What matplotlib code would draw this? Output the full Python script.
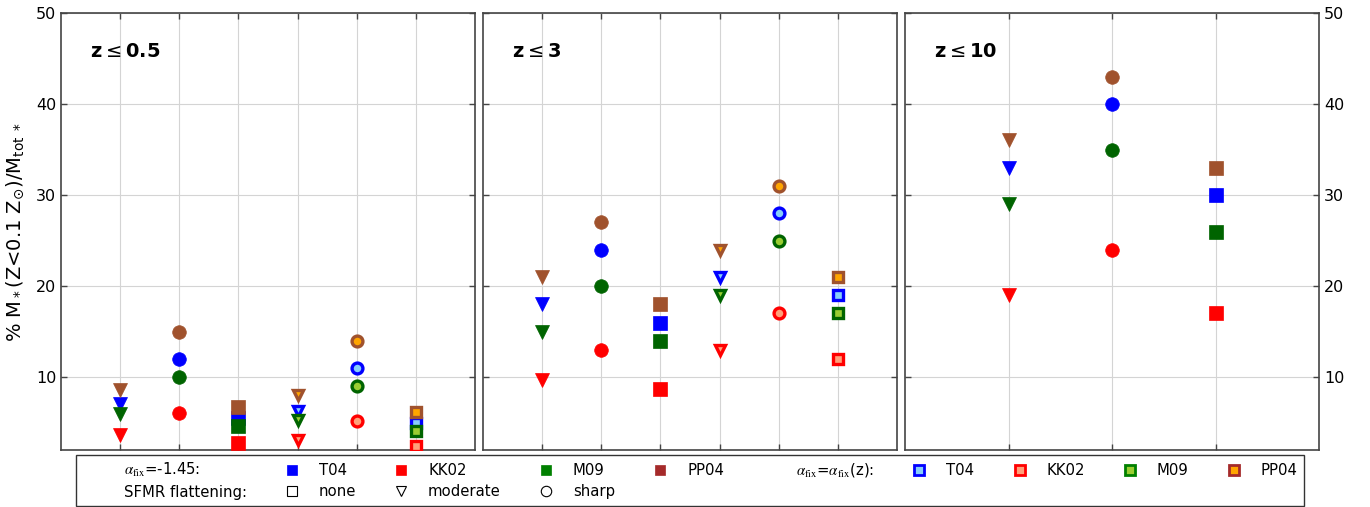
import matplotlib
matplotlib.use("Agg")
import matplotlib.pyplot as plt
from matplotlib.lines import Line2D
import numpy as np

# ---- data -------------------------------------------------------------
calibrations = ["T04", "KK02", "M09", "PP04"]
panel_labels = [r"z$\leq$0.5", r"z$\leq$3", r"z$\leq$10"]

# column order per panel: moderate, sharp, none (alpha_fix = -1.45),
# then moderate, sharp, none (alpha_fix = alpha_fix(z)) for the first two panels
flattening_cols_6 = ["moderate", "sharp", "none", "moderate", "sharp", "none"]
alpha_z_cols_6 = [False, False, False, True, True, True]
flattening_cols_3 = ["moderate", "sharp", "none"]
alpha_z_cols_3 = [False, False, False]

z05_T04 = [7.0, 12.0, 5.5, 6.3, 11.0, 5.0]
z05_KK02 = [3.6, 6.1, 2.8, 3.1, 5.2, 2.4]
z05_M09 = [5.9, 10.0, 4.6, 5.3, 9.0, 4.1]
z05_PP04 = [8.6, 15.0, 6.7, 8.0, 14.0, 6.2]

z3_T04 = [18.0, 24.0, 16.0, 21.0, 28.0, 19.0]
z3_KK02 = [9.7, 13.0, 8.7, 13.0, 17.0, 12.0]
z3_M09 = [15.0, 20.0, 14.0, 19.0, 25.0, 17.0]
z3_PP04 = [21.0, 27.0, 18.0, 24.0, 31.0, 21.0]

z10_T04 = [33.0, 40.0, 30.0]
z10_KK02 = [19.0, 24.0, 17.0]
z10_M09 = [29.0, 35.0, 26.0]
z10_PP04 = [36.0, 43.0, 33.0]

y_ticks = [10, 20, 30, 40, 50]

# ---- styles -----------------------------------------------------------
fill_col = {"T04": "blue", "KK02": "red", "M09": "darkgreen", "PP04": "sienna"}
inner_col = {"T04": "lightskyblue", "KK02": "lightsalmon",
             "M09": "yellowgreen", "PP04": "orange"}
leg_fill = {"T04": "blue", "KK02": "red", "M09": "green", "PP04": "brown"}
marker_of = {"none": "s", "moderate": "v", "sharp": "o"}

plt.rcParams["font.family"] = "DejaVu Sans"
plt.rcParams["mathtext.fontset"] = "dejavusans"

fig = plt.figure(figsize=(13.70, 5.07), dpi=100)

W, H = 1370.0, 507.0
bottom = 1 - 450 / H
height = (450 - 13) / H
lefts = [61 / W, 483 / W, 905 / W]
width = 414 / W

panels = [
    (panel_labels[0], flattening_cols_6, alpha_z_cols_6,
     {"T04": z05_T04, "KK02": z05_KK02, "M09": z05_M09, "PP04": z05_PP04}),
    (panel_labels[1], flattening_cols_6, alpha_z_cols_6,
     {"T04": z3_T04, "KK02": z3_KK02, "M09": z3_M09, "PP04": z3_PP04}),
    (panel_labels[2], flattening_cols_3, alpha_z_cols_3,
     {"T04": z10_T04, "KK02": z10_KK02, "M09": z10_M09, "PP04": z10_PP04}),
]

spine_col = "#444444"
axes = []
for i, (label, flat, alpha_z, values) in enumerate(panels):
    ax = fig.add_axes([lefts[i], bottom, width, height])
    axes.append(ax)
    xs = np.arange(1, len(flat) + 1)
    for cal in calibrations:
        for x, f, az, v in zip(xs, flat, alpha_z, values[cal]):
            if az:
                ax.plot(x, v, linestyle="none", marker=marker_of[f],
                        markersize=7.8, markerfacecolor=inner_col[cal],
                        markeredgecolor=fill_col[cal], markeredgewidth=2.4,
                        zorder=3)
            else:
                ax.plot(x, v, linestyle="none", marker=marker_of[f],
                        markersize=9.8, markerfacecolor=fill_col[cal],
                        markeredgecolor=fill_col[cal], markeredgewidth=0.5,
                        zorder=3)
    ax.set_xlim(0, len(flat) + 1)
    ax.set_ylim(2, 50)
    ax.set_xticks(xs)
    ax.set_xticklabels([])
    ax.set_yticks(y_ticks)
    ax.grid(True, color="#d4d4d4", linewidth=0.8, zorder=0)
    ax.set_axisbelow(True)
    ax.tick_params(axis="both", direction="in", length=4, width=1,
                   color=spine_col, top=True, right=True, labelsize=11.5)
    if i == 0:
        ax.tick_params(labelleft=True, labelright=False)
    elif i == 2:
        ax.tick_params(labelleft=False, labelright=True)
    else:
        ax.tick_params(labelleft=False, labelright=False)
    for s in ax.spines.values():
        s.set_color(spine_col)
        s.set_linewidth(1.2)
    ax.text(0.07, 0.911, label, transform=ax.transAxes, fontsize=14,
            fontweight="bold", ha="left", va="center")

axes[0].set_ylabel(r"% M$_*$(Z<0.1 Z$_{\odot}$)/M$_{\rm tot\ *}$", fontsize=14,
                   labelpad=7)

# ---- legend -----------------------------------------------------------
def blank(lbl=""):
    return Line2D([], [], linestyle="none", marker=None, label=lbl)

def filled(cal):
    return Line2D([], [], linestyle="none", marker="s", markersize=7.5,
                  markerfacecolor=leg_fill[cal], markeredgecolor=leg_fill[cal],
                  markeredgewidth=0.5)

def hollow_filled(cal):
    return Line2D([], [], linestyle="none", marker="s", markersize=6.5,
                  markerfacecolor=inner_col[cal], markeredgecolor=leg_fill[cal],
                  markeredgewidth=2)

def shape(f):
    return Line2D([], [], linestyle="none", marker=marker_of[f], markersize=7.5,
                  markerfacecolor="white", markeredgecolor="black",
                  markeredgewidth=0.8)

handles = [
    blank(), blank(),
    filled("T04"), shape("none"),
    filled("KK02"), shape("moderate"),
    filled("M09"), shape("sharp"),
    filled("PP04"), blank(),
    blank(), blank(),
    hollow_filled("T04"), blank(),
    hollow_filled("KK02"), blank(),
    hollow_filled("M09"), blank(),
    hollow_filled("PP04"), blank(),
]
labels = [
    r"$\alpha_{\rm fix}$=-1.45:", "SFMR flattening:",
    "T04", "none",
    "KK02", "moderate",
    "M09", "sharp",
    "PP04", "",
    r"$\alpha_{\rm fix}$=$\alpha_{\rm fix}$(z):", "",
    "T04", "",
    "KK02", "",
    "M09", "",
    "PP04", "",
]
leg = fig.legend(handles, labels, ncol=10, loc="upper left",
                 bbox_to_anchor=(76 / W, 1 - 455 / H), borderaxespad=0,
                 fontsize=10.7, fancybox=False, framealpha=1,
                 edgecolor="#333333", numpoints=1, labelspacing=0.4,
                 columnspacing=2.05)
leg.get_frame().set_linewidth(1.0)
for t in leg.get_texts():
    t.set_math_fontfamily("stix")

fig.savefig("out.png", dpi=100)
